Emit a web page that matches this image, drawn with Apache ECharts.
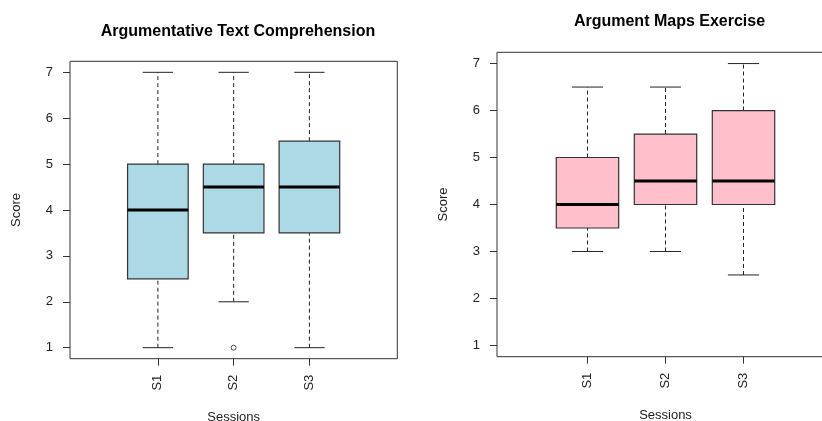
<!DOCTYPE html>
<html>
<head>
<meta charset="utf-8">
<script src="https://cdn.jsdelivr.net/npm/echarts@6/dist/echarts.min.js"></script>
<style>
html,body{margin:0;padding:0;background:#fff;}
#chart{width:822px;height:421px;}
</style>
</head>
<body>
<div id="chart"></div>
<script>
// Data
const categories = ['S1', 'S2', 'S3'];
const yTicks = [1, 2, 3, 4, 5, 6, 7];
// [min, Q1, median, Q3, max]
const textStats = [
  [1, 2.5, 4, 5, 7],
  [2, 3.5, 4.5, 5, 7],
  [1, 3.5, 4.5, 5.5, 7]
];
const textOutliers = [[2, 1]]; // [session index (1-based), value]
const mapsStats = [
  [3, 3.5, 4, 5, 6.5],
  [3, 4, 4.5, 5.5, 6.5],
  [2.5, 4, 4.5, 6, 7]
];
const mapsOutliers = [];
const titles = ['Argumentative Text Comprehension', 'Argument Maps Exercise'];

const FONT = '"Liberation Sans", Arial, sans-serif';
const TXT = '#222';
const BOX_HALF = 0.4, CAP_HALF = 0.2;

function boxData(stats) {
  return stats.map((s, i) => [i + 1].concat(s));
}

function makeRender(fill) {
  return function (params, api) {
    const x = api.value(0);
    const mn = api.value(1), q1 = api.value(2), md = api.value(3), q3 = api.value(4), mx = api.value(5);
    const p = (a, b) => api.coord([a, b]);
    const children = [];
    const dash = { stroke: '#222', lineWidth: 1, lineDash: [4, 3] };
    const solid = { stroke: '#222', lineWidth: 1 };
    let a = p(x, q3), b = p(x, mx);
    children.push({ type: 'line', shape: { x1: a[0], y1: a[1], x2: b[0], y2: b[1] }, style: dash });
    a = p(x, mn); b = p(x, q1);
    children.push({ type: 'line', shape: { x1: a[0], y1: a[1], x2: b[0], y2: b[1] }, style: dash });
    a = p(x - CAP_HALF, mx); b = p(x + CAP_HALF, mx);
    children.push({ type: 'line', shape: { x1: a[0], y1: a[1], x2: b[0], y2: b[1] }, style: solid });
    a = p(x - CAP_HALF, mn); b = p(x + CAP_HALF, mn);
    children.push({ type: 'line', shape: { x1: a[0], y1: a[1], x2: b[0], y2: b[1] }, style: solid });
    const tl = p(x - BOX_HALF, q3), br = p(x + BOX_HALF, q1);
    children.push({ type: 'rect', shape: { x: tl[0], y: tl[1], width: br[0] - tl[0], height: br[1] - tl[1] },
      style: { fill: fill, stroke: '#333', lineWidth: 1.2 } });
    a = p(x - BOX_HALF, md); b = p(x + BOX_HALF, md);
    children.push({ type: 'line', shape: { x1: a[0], y1: a[1], x2: b[0], y2: b[1] }, style: { stroke: '#000', lineWidth: 3 } });
    return { type: 'group', children: children };
  };
}

const grids = [
  { left: 70, top: 61.3, width: 327.3, height: 297.4 },
  { left: 497, top: 52.3, width: 337, height: 304.4 }
];

function xAxisFor(i) {
  return {
    type: 'value', gridIndex: i, min: -0.16, max: 4.16, position: 'bottom',
    splitLine: { show: false },
    axisLine: { show: false, onZero: false },
    axisTick: { show: true, inside: false, length: 7, lineStyle: { color: '#333' }, customValues: [1, 2, 3] },
    axisLabel: {
      customValues: [1, 2, 3], rotate: 90, margin: 16, color: TXT, fontSize: 13, fontFamily: FONT,
      formatter: v => categories[Math.round(v) - 1] || ''
    },
    name: 'Sessions', nameLocation: 'middle', nameGap: 52,
    nameTextStyle: { color: TXT, fontSize: 13, fontFamily: FONT }
  };
}
function yAxisFor(i) {
  return {
    type: 'value', gridIndex: i, min: 0.76, max: 7.24, position: 'left',
    splitLine: { show: false },
    axisLine: { show: false, onZero: false },
    axisTick: { show: true, inside: false, length: 7, lineStyle: { color: '#333' }, customValues: yTicks },
    axisLabel: { customValues: yTicks, margin: 17, color: TXT, fontSize: 13, fontFamily: FONT },
    name: 'Score', nameLocation: 'middle', nameGap: 47, nameRotate: 90,
    nameTextStyle: { color: TXT, fontSize: 13, fontFamily: FONT }
  };
}

const option = {
  animation: false,
  backgroundColor: '#fff',
  title: [
    { text: titles[0], left: 233, top: 19, textAlign: 'center',
      textStyle: { fontSize: 16, fontWeight: 'bold', color: '#000', fontFamily: FONT } },
    { text: titles[1], left: 664.5, top: 9, textAlign: 'center',
      textStyle: { fontSize: 16, fontWeight: 'bold', color: '#000', fontFamily: FONT } }
  ],
  grid: grids.map(g => Object.assign({ show: true, borderColor: '#333', borderWidth: 1, backgroundColor: 'transparent',
    containLabel: false, outerBoundsMode: 'none' }, g)),
  xAxis: [xAxisFor(0), xAxisFor(1)],
  yAxis: [yAxisFor(0), yAxisFor(1)],
  series: [
    { type: 'custom', xAxisIndex: 0, yAxisIndex: 0, renderItem: makeRender('#ADD8E6'), data: boxData(textStats), encode: { x: 0, y: [1, 2, 3, 4, 5] } },
    { type: 'custom', xAxisIndex: 1, yAxisIndex: 1, renderItem: makeRender('#FFC0CB'), data: boxData(mapsStats), encode: { x: 0, y: [1, 2, 3, 4, 5] } },
    { type: 'scatter', xAxisIndex: 0, yAxisIndex: 0, data: textOutliers, symbol: 'circle', symbolSize: 5,
      itemStyle: { color: '#fff', borderColor: '#222', borderWidth: 1 } },
    { type: 'scatter', xAxisIndex: 1, yAxisIndex: 1, data: mapsOutliers, symbol: 'circle', symbolSize: 5,
      itemStyle: { color: '#fff', borderColor: '#222', borderWidth: 1 } }
  ]
};

const chart = echarts.init(document.getElementById('chart'), null, { renderer: 'canvas' });
chart.setOption(option);
</script>
</body>
</html>
